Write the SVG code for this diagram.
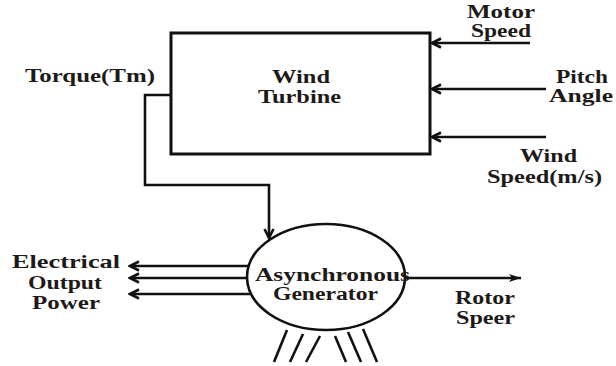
<svg xmlns="http://www.w3.org/2000/svg" width="616" height="366" viewBox="0 0 616 366">
<style>
.t{font-family:"Liberation Serif","Times New Roman",serif;font-weight:bold;font-size:18px;fill:#1e1a18}
.ln{fill:none;stroke:#111;stroke-width:2.6}
.box{fill:#fff;stroke:#111;stroke-width:3}
</style>
<defs>
<marker id="chev" markerUnits="userSpaceOnUse" markerWidth="14" markerHeight="14" viewBox="0 0 14 14" refX="12" refY="7" orient="auto">
<path d="M3,2.5 L12,7 L3,11.5" fill="none" stroke="#111" stroke-width="2.6"/>
</marker>
<marker id="tri" markerUnits="userSpaceOnUse" markerWidth="14" markerHeight="14" viewBox="0 0 14 14" refX="13" refY="7" orient="auto">
<path d="M1,3 L13,7 L1,11 L4,7 Z" fill="#111"/>
</marker>
</defs>
<rect width="616" height="366" fill="#fff"/>
<g id="connectors">
<path class="ln" d="M171,95 H145 V185 H269 V238" marker-end="url(#chev)"/>
<line class="ln" x1="530" y1="43" x2="432" y2="43" marker-end="url(#chev)"/>
<line class="ln" x1="546" y1="89" x2="432" y2="89" marker-end="url(#chev)"/>
<line class="ln" x1="546" y1="137" x2="432" y2="137" marker-end="url(#chev)"/>
<line class="ln" x1="252" y1="266" x2="130" y2="266" marker-end="url(#chev)"/>
<line class="ln" x1="250" y1="278" x2="130" y2="278" marker-end="url(#chev)"/>
<line class="ln" x1="252" y1="294" x2="130" y2="294" marker-end="url(#chev)"/>
<line class="ln" x1="403" y1="278" x2="521" y2="278" marker-end="url(#tri)"/>
</g>
<g id="wind-turbine">
<rect class="box" x="171" y="33" width="259" height="121"/>
<text class="t" x="272" y="83" textLength="58" lengthAdjust="spacingAndGlyphs">Wind</text>
<text class="t" x="258" y="103" textLength="83" lengthAdjust="spacingAndGlyphs">Turbine</text>
</g>
<g id="generator">
<g class="ln">
<line x1="287" y1="330" x2="274" y2="362"/>
<line x1="303" y1="334" x2="290" y2="362"/>
<line x1="320" y1="336" x2="306" y2="362"/>
<line x1="335" y1="336" x2="346" y2="362"/>
<line x1="348" y1="332" x2="361" y2="362"/>
<line x1="363" y1="329" x2="377" y2="362"/>
</g>
<ellipse cx="326" cy="277" rx="79" ry="53" fill="#fff" stroke="#111" stroke-width="2.6"/>
<text class="t" x="255" y="281" textLength="155" lengthAdjust="spacingAndGlyphs">Asynchronous</text>
<text class="t" x="273" y="300" textLength="105" lengthAdjust="spacingAndGlyphs">Generator</text>
</g>
<g id="torque-label">
<text class="t" x="25" y="82" textLength="130" lengthAdjust="spacingAndGlyphs">Torque(Tm)</text>
</g>
<g id="motor-speed">
<text class="t" x="467" y="18" textLength="68" lengthAdjust="spacingAndGlyphs">Motor</text>
<text class="t" x="471" y="37" textLength="60" lengthAdjust="spacingAndGlyphs">Speed</text>
</g>
<g id="pitch-angle">
<text class="t" x="556" y="83" textLength="52" lengthAdjust="spacingAndGlyphs">Pitch</text>
<text class="t" x="549" y="102" textLength="64" lengthAdjust="spacingAndGlyphs">Angle</text>
</g>
<g id="wind-speed">
<text class="t" x="520" y="162" textLength="57" lengthAdjust="spacingAndGlyphs">Wind</text>
<text class="t" x="487" y="183" textLength="115" lengthAdjust="spacingAndGlyphs">Speed(m/s)</text>
</g>
<g id="electrical-output">
<text class="t" x="12" y="268" textLength="108" lengthAdjust="spacingAndGlyphs">Electrical</text>
<text class="t" x="28" y="289" textLength="74" lengthAdjust="spacingAndGlyphs">Output</text>
<text class="t" x="32" y="309" textLength="68" lengthAdjust="spacingAndGlyphs">Power</text>
</g>
<g id="rotor-speed">
<text class="t" x="455" y="304" textLength="60" lengthAdjust="spacingAndGlyphs">Rotor</text>
<text class="t" x="456" y="324" textLength="59" lengthAdjust="spacingAndGlyphs">Speer</text>
</g>
</svg>
